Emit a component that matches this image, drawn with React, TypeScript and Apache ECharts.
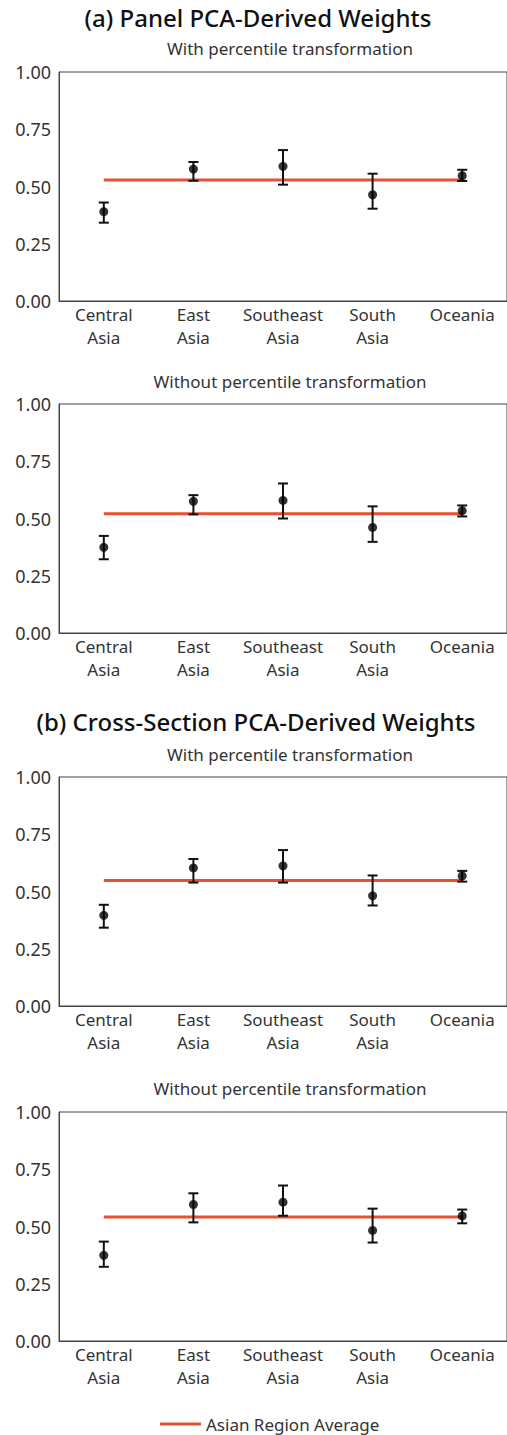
import React, { useEffect, useRef } from "react";
import * as echarts from "echarts";

const categories = ["Central\nAsia", "East\nAsia", "Southeast\nAsia", "South\nAsia", "Oceania"];
const yTicks = [0, 0.25, 0.5, 0.75, 1];

const panelTitles = ["(a) Panel PCA-Derived Weights", "(b) Cross-Section PCA-Derived Weights"];
const subTitles = [
  "With percentile transformation",
  "Without percentile transformation",
  "With percentile transformation",
  "Without percentile transformation",
];

// point estimates
const pointsA1 = [0.39, 0.576, 0.588, 0.464, 0.547];
const pointsA2 = [0.374, 0.575, 0.579, 0.461, 0.534];
const pointsB1 = [0.396, 0.603, 0.612, 0.481, 0.568];
const pointsB2 = [0.374, 0.596, 0.606, 0.483, 0.546];
// lower bounds
const lowA1 = [0.342, 0.525, 0.508, 0.403, 0.524];
const lowA2 = [0.322, 0.518, 0.5, 0.398, 0.509];
const lowB1 = [0.342, 0.539, 0.539, 0.439, 0.543];
const lowB2 = [0.324, 0.518, 0.547, 0.43, 0.514];
// upper bounds
const highA1 = [0.43, 0.607, 0.659, 0.556, 0.573];
const highA2 = [0.424, 0.602, 0.653, 0.553, 0.557];
const highB1 = [0.442, 0.642, 0.681, 0.57, 0.59];
const highB2 = [0.434, 0.645, 0.679, 0.578, 0.574];
// Asian region average
const averages = [0.528, 0.521, 0.548, 0.542];

const points = [pointsA1, pointsA2, pointsB1, pointsB2];
const lows = [lowA1, lowA2, lowB1, lowB2];
const highs = [highA1, highA2, highB1, highB2];

const FONT = "'Noto Sans', 'Open Sans', sans-serif";
const RED = "#E8502F";
const TEXT = "#333";

export default function App() {
  const ref = useRef<HTMLDivElement>(null);
  useEffect(() => {
    if (!ref.current) return;
    const chart = echarts.init(ref.current, null, { renderer: "svg" });
    const gridTops = [72, 404, 777, 1112];
    const gridH = 229;
    const subTops = [35, 368, 741, 1075];
    const grids: any[] = [];
    const xAxes: any[] = [];
    const yAxes: any[] = [];
    const series: any[] = [];
    const titles: any[] = [
      { text: panelTitles[0], left: 253, textAlign: "center", top: 0, textStyle: { fontFamily: FONT, fontSize: 24, fontWeight: 500, color: "#111" } },
      { text: panelTitles[1], left: 251, textAlign: "center", top: 704, textStyle: { fontFamily: FONT, fontSize: 24, fontWeight: 500, color: "#111" } },
    ];
    for (let i = 0; i < 4; i++) {
      grids.push({ left: 59, top: gridTops[i], width: 451, height: gridH, show: true, borderColor: "#444", borderWidth: 1, containLabel: false });
      titles.push({ text: subTitles[i], left: 285, textAlign: "center", top: subTops[i], textStyle: { fontFamily: FONT, fontSize: 17, fontWeight: 400, color: TEXT } });
      xAxes.push({
        type: "category",
        gridIndex: i,
        data: categories,
        boundaryGap: true,
        axisLine: { show: true, lineStyle: { color: "#444", width: 1 } },
        axisTick: { show: false },
        axisLabel: { fontFamily: FONT, fontSize: 17, color: TEXT, lineHeight: 23, margin: 2, interval: 0 },
        splitLine: { show: false },
      });
      yAxes.push({
        type: "value",
        gridIndex: i,
        min: 0,
        max: 1,
        interval: 0.25,
        axisLine: { show: true, lineStyle: { color: "#444", width: 1 } },
        axisTick: { show: false },
        splitLine: { show: false },
        axisLabel: { fontFamily: FONT, fontSize: 18, color: TEXT, margin: 8, formatter: (v: number) => v.toFixed(2) },
      });
      series.push({
        type: "line",
        name: "Asian Region Average",
        xAxisIndex: i,
        yAxisIndex: i,
        data: categories.map(() => averages[i]),
        symbol: "none",
        lineStyle: { color: RED, width: 3 },
        itemStyle: { color: RED },
        z: 2,
      });
      series.push({
        type: "custom",
        xAxisIndex: i,
        yAxisIndex: i,
        data: categories.map((_, j) => [j, lows[i][j], highs[i][j]]),
        encode: { x: 0, y: [1, 2] },
        renderItem: (params: any, api: any) => {
          const x = api.value(0);
          const lo = api.coord([x, api.value(1)]);
          const hi = api.coord([x, api.value(2)]);
          const cap = 5;
          const style = { stroke: "#111", lineWidth: 2 };
          return {
            type: "group",
            children: [
              { type: "line", shape: { x1: lo[0], y1: lo[1], x2: hi[0], y2: hi[1] }, style },
              { type: "line", shape: { x1: lo[0] - cap, y1: lo[1], x2: lo[0] + cap, y2: lo[1] }, style },
              { type: "line", shape: { x1: hi[0] - cap, y1: hi[1], x2: hi[0] + cap, y2: hi[1] }, style },
            ],
          };
        },
        z: 3,
      });
      series.push({
        type: "scatter",
        xAxisIndex: i,
        yAxisIndex: i,
        data: points[i],
        symbol: "circle",
        symbolSize: 9,
        itemStyle: { color: "#000" },
        z: 4,
      });
    }
    chart.setOption({
      animation: false,
      backgroundColor: "#fff",
      title: titles,
      grid: grids,
      xAxis: xAxes,
      yAxis: yAxes,
      series,
      legend: {
        data: ["Asian Region Average"],
        left: 160,
        top: 1413,
        padding: 0,
        icon: "rect",
        itemWidth: 41,
        itemHeight: 3,
        itemGap: 8,
        textStyle: { fontFamily: FONT, fontSize: 17, color: TEXT, lineHeight: 22 },
      },
    });
    return () => chart.dispose();
  }, []);
  return <div ref={ref} style={{ position: "absolute", left: 0, top: 0, width: 507, height: 1435 }} />;
}
